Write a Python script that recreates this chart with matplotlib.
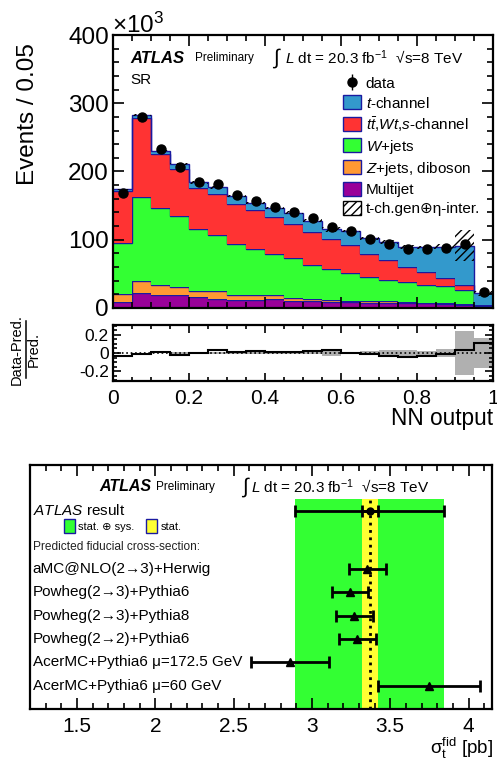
import numpy as np
import matplotlib
matplotlib.use('Agg')
import matplotlib.pyplot as plt
from matplotlib.patches import Patch
from matplotlib.lines import Line2D
from matplotlib.ticker import MultipleLocator, FuncFormatter

plt.rcParams['font.family'] = ['Liberation Sans', 'DejaVu Sans']
plt.rcParams['mathtext.fontset'] = 'custom'
plt.rcParams['mathtext.rm'] = 'Liberation Sans'
plt.rcParams['mathtext.it'] = 'Liberation Sans:italic'
plt.rcParams['mathtext.bf'] = 'Liberation Sans:bold'
plt.rcParams['hatch.linewidth'] = 1.0

# ---------------- data: NN output distribution (x10^3 events) ----------------
bin_edges = [0.0, 0.05, 0.1, 0.15, 0.2, 0.25, 0.3, 0.35, 0.4, 0.45, 0.5,
             0.55, 0.6, 0.65, 0.7, 0.75, 0.8, 0.85, 0.9, 0.95, 1.0]
multijet = [8.8, 22, 19.5, 18.6, 15.6, 13.7, 12.2, 12.2, 13.2, 10.7,
            9.8, 8.8, 8.8, 7.8, 7.8, 6.8, 6.8, 5.9, 4.9, 0.8]
zjets_diboson = [11.7, 17, 14.5, 11.7, 9.8, 10.7, 7.3, 6.4, 6.3, 3.9,
                 3.9, 3.4, 1.9, 2.0, 2.0, 2.0, 1.0, 0.9, 1.0, 0.7]
wjets = [75.2, 124, 112, 104.5, 89.9, 82.6, 74.3, 67.4, 59.5, 58.2,
         49.3, 44.5, 41, 35.2, 31.2, 29.8, 25.9, 25.2, 20, 1.0]
ttbar_wt_s = [76.3, 115, 79.6, 68.9, 60.1, 60, 58.6, 57.6, 53.9, 50.2,
              48.8, 45.0, 40.6, 33.5, 29.3, 21.9, 19.5, 11.5, 7.8, 1.5]
tchannel = [2, 4.8, 4.9, 6.8, 8.6, 9.8, 11.6, 10.5, 14.1, 16.7,
            16.2, 13.5, 20.5, 23.5, 26.7, 29.3, 35.7, 46.3, 57.6, 17.3]
data = [169, 280.3, 233, 206, 185, 181.7, 165.6, 157, 148.5, 141,
        131.4, 119, 113.3, 100.7, 93.8, 86, 86.4, 88.5, 94, 23.6]
tch_rel_unc = [0.005, 0.005, 0.005, 0.008, 0.01, 0.01, 0.012, 0.012, 0.01, 0.015,
               0.015, 0.03, 0.015, 0.02, 0.03, 0.03, 0.025, 0.04, 0.245, 0.17]

# ---------------- data: fiducial cross-section comparison ----------------
atlas_result = 3.37
atlas_stat = 0.05
atlas_total = 0.475
pred_labels = ['aMC@NLO(2→3)+Herwig', 'Powheg(2→3)+Pythia6', 'Powheg(2→3)+Pythia8',
               'Powheg(2→2)+Pythia6', 'AcerMC+Pythia6 μ=172.5 GeV', 'AcerMC+Pythia6 μ=60 GeV']
pred_values = [3.35, 3.245, 3.27, 3.29, 2.86, 3.75]
pred_err_low = [0.115, 0.117, 0.114, 0.115, 0.25, 0.33]
pred_err_high = [0.12, 0.114, 0.12, 0.12, 0.25, 0.325]

# ---------------- figure ----------------
W, H = 497, 760
fig = plt.figure(figsize=(W / 100, H / 100), dpi=100)

def fig_axes(l, t, r, b):
    return fig.add_axes([l / W, 1 - b / H, (r - l) / W, (b - t) / H])

ax1 = fig_axes(113, 35, 493, 308)
ax2 = fig_axes(113, 325, 493, 381)
ax3 = fig_axes(30, 465, 492, 709)

edges = np.array(bin_edges)
centers = 0.5 * (edges[:-1] + edges[1:])
outline = '#1a1aa0'
comps = [(multijet, '#990099'), (zjets_diboson, '#ff9933'), (wjets, '#33ff33'),
         (ttbar_wt_s, '#ff3333'), (tchannel, '#3399cc')]
base = np.zeros(len(centers))
for vals, col in comps:
    top = base + np.array(vals)
    ax1.stairs(top, edges, baseline=base, fill=True, color=col, lw=0)
    ax1.stairs(top, edges, baseline=None, color=outline, lw=1.0)
    base = top
total = base
rel = np.array(tch_rel_unc)
ax1.bar(centers, 2 * rel * total, bottom=total * (1 - rel), width=0.05,
        facecolor='none', edgecolor='k', hatch='////', lw=0)
data_arr = np.array(data)
eb = ax1.errorbar(centers, data_arr, yerr=np.sqrt(data_arr * 1e3) / 1e3, fmt='o',
                  color='k', ms=6.5, lw=1)

ax1.set_xlim(0, 1)
ax1.set_ylim(0, 400)
fmt_g = FuncFormatter(lambda v, p: '%g' % v)
for ax in (ax1, ax2, ax3):
    for s in ax.spines.values():
        s.set_linewidth(1.6)
    ax.tick_params(which='both', direction='in', top=True, right=True, width=1.2,
                   labelsize=14)
    ax.tick_params(which='major', length=8)
    ax.tick_params(which='minor', length=4)

ax1.xaxis.set_major_locator(MultipleLocator(0.2))
ax1.xaxis.set_minor_locator(MultipleLocator(0.05))
ax1.yaxis.set_major_locator(MultipleLocator(100))
ax1.yaxis.set_minor_locator(MultipleLocator(20))
ax1.yaxis.set_major_formatter(fmt_g)
ax1.tick_params(labelbottom=False, labelsize=17.5, pad=3)

# texts top
ax1.text(0.045, 0.915, 'ATLAS', transform=ax1.transAxes, fontsize=12,
         fontweight='bold', fontstyle='italic', va='center')
ax1.text(0.215, 0.915, 'Preliminary', transform=ax1.transAxes, fontsize=8.5, va='center')
ax1.text(0.42, 0.915, '∫', transform=ax1.transAxes, fontsize=15, va='center')
ax1.text(0.452, 0.915, r'$L$ dt = 20.3 fb$^{\mathregular{-1}}$  √s=8 TeV',
         transform=ax1.transAxes, fontsize=11, va='center')
ax1.text(0.045, 0.835, 'SR', transform=ax1.transAxes, fontsize=11, va='center')

handles = [eb,
           Patch(facecolor='#3399cc', edgecolor=outline, lw=1),
           Patch(facecolor='#ff3333', edgecolor=outline, lw=1),
           Patch(facecolor='#33ff33', edgecolor=outline, lw=1),
           Patch(facecolor='#ff9933', edgecolor=outline, lw=1),
           Patch(facecolor='#990099', edgecolor=outline, lw=1),
           Patch(facecolor='white', edgecolor='k', hatch='////', lw=1)]
labels = ['data', r'$t$-channel', r'$t\bar{t}$,$Wt$,$s$-channel', r'$W$+jets',
          r'$Z$+jets, diboson', 'Multijet', 't-ch.gen⊕η-inter.']
ax1.legend(handles, labels, loc='upper left', bbox_to_anchor=(0.605, 0.85),
           frameon=False, fontsize=11, borderpad=0, borderaxespad=0,
           handlelength=1.2, handleheight=1.05, handletextpad=0.3,
           labelspacing=0.265)

fig.text(28 / W, 1 - 114 / H, 'Events / 0.05', rotation=90, fontsize=17.5,
         ha='center', va='center')
fig.text(112 / W, 1 - 33 / H, r'×10$^{\mathregular{3}}$', fontsize=17.5, ha='left',
         va='baseline')

# ratio panel
ratio = data_arr / total - 1
ax2.bar(centers, 2 * rel, bottom=-rel, width=0.05, color='#b0b0b0', lw=0)
ax2.axhline(0, color='k', ls=':', lw=1.2)
ax2.stairs(ratio, edges, baseline=None, color='k', lw=1.5)
ax2.set_xlim(0, 1)
ax2.set_ylim(-0.31, 0.31)
ax2.xaxis.set_major_locator(MultipleLocator(0.2))
ax2.xaxis.set_minor_locator(MultipleLocator(0.05))
ax2.yaxis.set_major_locator(MultipleLocator(0.2))
ax2.yaxis.set_minor_locator(MultipleLocator(0.05))
ax2.xaxis.set_major_formatter(fmt_g)
ax2.yaxis.set_major_formatter(fmt_g)
ax2.tick_params(axis='y', labelsize=12.5, pad=3)
ax2.tick_params(axis='x', labelsize=15, pad=6)
ax2.tick_params(which='major', length=6)
ax2.tick_params(which='minor', length=3)
narrow = ['Liberation Sans Narrow', 'Liberation Sans', 'DejaVu Sans']
fig.text(16.5 / W, 1 - 349.5 / H, 'Data-Pred.', rotation=90, fontsize=10.5,
         family=narrow, ha='center', va='center')
fig.text(34 / W, 1 - 349.5 / H, 'Pred.', rotation=90, fontsize=10.5,
         family=narrow, ha='center', va='center')
fig.add_artist(Line2D([25.5 / W, 25.5 / W], [1 - 321 / H, 1 - 378 / H],
                      transform=fig.transFigure, color='k', lw=1.1))
fig.text(493 / W, 1 - 419 / H, 'NN output', fontsize=16.3, ha='right', va='center')

# ---------------- bottom panel ----------------
rows = np.arange(len(pred_values), 0, -1)
ax3.fill_betweenx([0, 9], atlas_result - atlas_total, atlas_result + atlas_total,
                  color='#33ff33', lw=0)
ax3.fill_betweenx([0, 9], atlas_result - atlas_stat, atlas_result + atlas_stat,
                  color='#ffff33', lw=0)
ax3.plot([atlas_result, atlas_result], [0, 9], color='k', ls=':', lw=2)
ax3.errorbar([atlas_result], [8.5], xerr=[atlas_total], fmt='o', color='k', ms=5,
             elinewidth=2, capsize=4, capthick=2)
ax3.errorbar([atlas_result], [8.5], xerr=[atlas_stat], fmt='none', ecolor='k',
             elinewidth=2, capsize=4, capthick=2)
ax3.errorbar(pred_values, rows, xerr=[pred_err_low, pred_err_high], fmt='^',
             color='k', ms=6, elinewidth=2, capsize=4, capthick=2)
ax3.set_xlim(1.2, 4.15)
ax3.set_ylim(0, 10.47)
ax3.xaxis.set_major_locator(MultipleLocator(0.5))
ax3.xaxis.set_minor_locator(MultipleLocator(0.1))
ax3.xaxis.set_major_formatter(fmt_g)
ax3.tick_params(axis='y', which='both', left=False, right=False, labelleft=False)
ax3.tick_params(axis='x', labelsize=15, pad=6)

tx = 0.006
bt = ax3.get_yaxis_transform()
for lab, r in zip(pred_labels, rows):
    ax3.text(tx, r, lab, transform=bt, fontsize=11, va='center', ha='left')
ax3.text(tx, 8.5, r'$ATLAS$ result', transform=bt, fontsize=11, va='center')
ax3.text(tx, 6.95, 'Predicted fiducial cross-section:', transform=bt, fontsize=8.6,
         va='center', color='#222222')
ax3.text(0.149, 0.91, 'ATLAS', transform=ax3.transAxes, fontsize=11.5,
         fontweight='bold', fontstyle='italic', va='center')
ax3.text(0.273, 0.91, 'Preliminary', transform=ax3.transAxes, fontsize=8.5, va='center')
ax3.text(0.459, 0.91, '∫', transform=ax3.transAxes, fontsize=15, va='center')
ax3.text(0.478, 0.91, r'$L$ dt = 20.3 fb$^{\mathregular{-1}}$  √s=8 TeV',
         transform=ax3.transAxes, fontsize=11, va='center')
ax3.legend([Patch(facecolor='#33ff33', edgecolor=outline, lw=1),
            Patch(facecolor='#ffff33', edgecolor=outline, lw=1)],
           ['stat. ⊕ sys.', 'stat.'], loc='center left', ncol=2,
           bbox_to_anchor=(0.0736, 0.75), frameon=False, fontsize=8,
           borderpad=0, borderaxespad=0, handlelength=1.0, handleheight=1.45,
           handletextpad=0.3, columnspacing=1.0)
fig.text(493 / W, 1 - 754 / H, r'σ$_{\mathregular{t}}^{\mathregular{fid}}$ [pb]',
         fontsize=13.5, ha='right', va='baseline')

fig.savefig('out.png', dpi=100)
